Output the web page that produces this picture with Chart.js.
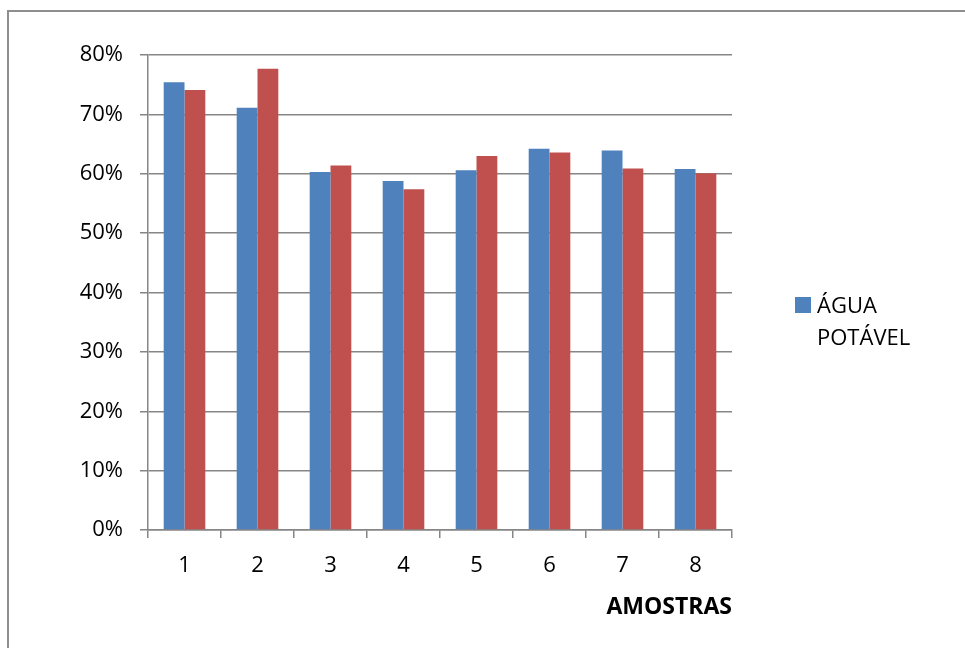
<!DOCTYPE html>
<html>
<head>
<meta charset="utf-8">
<script src="https://cdn.jsdelivr.net/npm/chart.js@4.4.1/dist/chart.umd.min.js"></script>
<style>
    html, body { margin: 0; padding: 0; background: #fff; }
    body { width: 965px; height: 648px; position: relative; overflow: hidden; }
    #frame {
        position: absolute; left: 7px; top: 10px; width: 980px; height: 660px;
        border: 2px solid #8e8e8e; box-sizing: border-box;
    }
    #wrap { position: absolute; left: 0; top: 0; width: 965px; height: 648px; }
</style>
</head>
<body>
<div id="frame"></div>
<div id="wrap"><canvas id="chart-amostras"></canvas></div>
<script>
const amostras = ['1', '2', '3', '4', '5', '6', '7', '8'];
const aguaPotavel = [75.4, 71.1, 60.3, 58.8, 60.6, 64.2, 63.9, 60.8];
const segundaSerie = [74.1, 77.7, 61.4, 57.4, 63.0, 63.6, 60.9, 60.1];
const legendLines = ['ÁGUA', 'POTÁVEL'];
const yMax = 80;
const yStep = 10;

const axisColor = '#868686';
const fontFamily = "'Open Sans', 'Noto Sans', sans-serif";

// legenda manual: so a primeira serie aparece, em duas linhas
const legendaAgua = {
    id: 'legendaAgua',
    afterDraw(chart) {
        const { ctx, chartArea } = chart;
        const x = chartArea.right + 63;
        const y = 297;
        ctx.save();
        ctx.fillStyle = '#4F81BD';
        ctx.fillRect(x, y, 16, 16);
        ctx.fillStyle = '#000';
        ctx.font = `22px ${fontFamily}`;
        ctx.textBaseline = 'alphabetic';
        legendLines.forEach((line, i) => {
            ctx.fillText(line, x + 22, y + 16 + i * 32);
        });
        ctx.restore();
    },
};

document.addEventListener('DOMContentLoaded', () => {
    const el = document.getElementById('chart-amostras');
    new Chart(el, {
        type: 'bar',
        data: {
            labels: amostras,
            datasets: [
                { label: 'ÁGUA POTÁVEL', data: aguaPotavel, backgroundColor: '#4F81BD' },
                { label: '', data: segundaSerie, backgroundColor: '#C0504D' },
            ],
        },
        options: {
            responsive: true,
            maintainAspectRatio: false,
            animation: false,
            categoryPercentage: 0.57,
            barPercentage: 1,
            layout: { padding: { left: 0, top: 55, right: 233, bottom: 0 } },
            plugins: {
                legend: { display: false },
                tooltip: { enabled: false },
            },
            scales: {
                x: {
                    afterFit: (s) => { s.height = 118; },
                    grid: {
                        offset: true,
                        drawOnChartArea: false,
                        color: axisColor,
                        tickLength: 8,
                        lineWidth: 1.5,
                    },
                    border: { color: axisColor, width: 1.5 },
                    ticks: {
                        color: '#000',
                        padding: 15,
                        font: { family: fontFamily, size: 22 },
                    },
                    title: {
                        display: true,
                        text: 'AMOSTRAS',
                        align: 'end',
                        color: '#000',
                        padding: { top: 0, bottom: 27 },
                        font: { family: fontFamily, size: 23, weight: 'bold' },
                    },
                },
                y: {
                    min: 0,
                    max: yMax,
                    afterFit: (s) => { s.width = 148; },
                    grid: { color: axisColor, tickLength: 8, lineWidth: 1.5 },
                    border: { color: axisColor, width: 1.5 },
                    ticks: {
                        stepSize: yStep,
                        color: '#000',
                        padding: 17,
                        font: { family: fontFamily, size: 22 },
                        callback: (v) => v + '%',
                    },
                },
            },
        },
        plugins: [legendaAgua],
    });
});
</script>
</body>
</html>
